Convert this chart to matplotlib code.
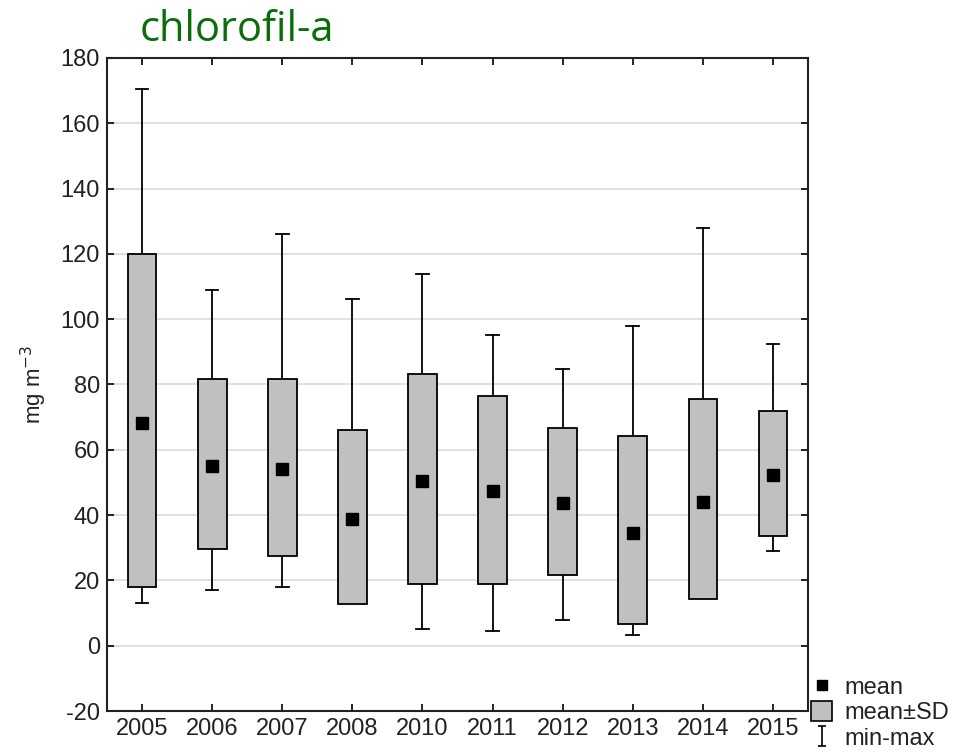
import numpy as np
import matplotlib
matplotlib.use('Agg')
import matplotlib.pyplot as plt
from matplotlib.patches import Patch
from matplotlib.lines import Line2D
from matplotlib.path import Path

# Values (mg m-3)
years = ['2005', '2006', '2007', '2008', '2010', '2011', '2012', '2013', '2014', '2015']
means = [68.3, 55.0, 54.0, 38.9, 50.3, 47.5, 43.7, 34.6, 44.1, 52.3]
sd_hi = [120.0, 81.8, 81.8, 66.1, 83.2, 76.5, 66.6, 64.1, 75.6, 71.9]
sd_lo = [18.0, 29.5, 27.5, 12.7, 19.0, 19.0, 21.7, 6.6, 14.2, 33.6]
maxs = [170.5, 109.0, 126.1, 106.2, 113.7, 95.2, 84.7, 98.0, 128.0, 92.3]
mins = [13.2, 17.2, 18.0, 12.7, 5.1, 4.6, 8.0, 3.3, 14.2, 29.0]

plt.rcParams['font.family'] = ['Liberation Sans', 'DejaVu Sans']
plt.rcParams['axes.unicode_minus'] = False

fig = plt.figure(figsize=(9.6, 7.52), dpi=100)
ax = fig.add_axes([0.1115, 0.0545, 0.7302, 0.8684])

x = np.arange(len(years))
box_w = 0.41
cap_w = 0.18

ax.bar(x, np.array(sd_hi) - np.array(sd_lo), bottom=sd_lo, width=box_w,
       color='#c0c0c0', edgecolor='black', linewidth=1.3, zorder=3)

# whiskers (only where they reach beyond the box)
for xi, lo, hi, mn, mx in zip(x, sd_lo, sd_hi, mins, maxs):
    if mx > hi:
        ax.plot([xi, xi], [hi, mx], color='black', lw=1.3, zorder=2)
        ax.plot([xi - cap_w / 2, xi + cap_w / 2], [mx, mx], color='black', lw=1.3, zorder=2)
    if mn < lo:
        ax.plot([xi, xi], [mn, lo], color='black', lw=1.3, zorder=2)
        ax.plot([xi - cap_w / 2, xi + cap_w / 2], [mn, mn], color='black', lw=1.3, zorder=2)

ax.plot(x, means, 's', color='black', markersize=8, zorder=4)

ax.set_xlim(-0.5, len(years) - 0.5)
ax.set_ylim(-20, 180)
ax.set_yticks(np.arange(-20, 181, 20))
ax.set_xticks(x)
ax.set_xticklabels(years)
ax.yaxis.grid(True, color='#dcdcdc', linewidth=1.2, zorder=0)
ax.set_axisbelow(True)
ax.tick_params(direction='in', top=True, right=True, labelsize=17, length=5,
               width=1.2, colors='black', labelcolor='#222222', pad=5)
for s in ax.spines.values():
    s.set_linewidth(1.5)
    s.set_color('#222222')

ax.set_ylabel('mg m$^{-3}$', fontsize=16, labelpad=8, color='#222222')

fig.text(0.145, 0.945, 'chlorofil-a', color='#0a6e0a', fontsize=30,
         family=['Open Sans', 'DejaVu Sans'], va='baseline')

# legend outside the axes, bottom right
ibeam = Path([(-0.35, 1), (0.35, 1), (0, 1), (0, -1), (-0.35, -1), (0.35, -1)],
             [Path.MOVETO, Path.LINETO, Path.MOVETO, Path.LINETO, Path.MOVETO, Path.LINETO])
handles = [
    Line2D([], [], marker='s', ls='none', color='black', markersize=7),
    Patch(facecolor='#c0c0c0', edgecolor='black', linewidth=1.2),
    Line2D([], [], marker=ibeam, ls='none', color='black', markersize=15, markeredgewidth=1.2),
]
fig.legend(handles, ['mean', 'mean±SD', 'min-max'], loc='lower left',
           bbox_to_anchor=(0.845, 0.003), frameon=False, fontsize=17,
           handlelength=0.9, handleheight=0.9, handletextpad=0.5, labelspacing=0.1,
           borderpad=0.0, borderaxespad=0, labelcolor='#222222')

plt.savefig('out.png', dpi=100)
